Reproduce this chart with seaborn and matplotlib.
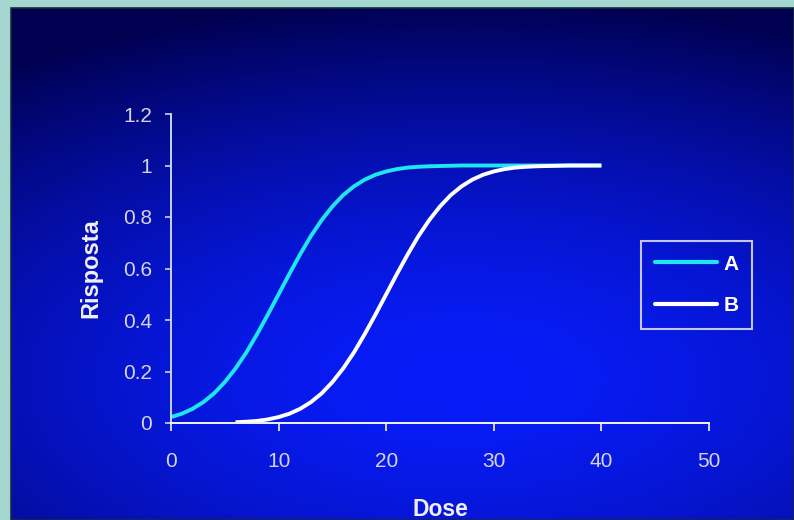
import numpy as np
import pandas as pd
import matplotlib
matplotlib.use("Agg")
import matplotlib.pyplot as plt
import seaborn as sns
from matplotlib.patches import Rectangle

# Dati
dose_a = list(range(0, 41))
risposta_a = [0.023, 0.036, 0.055, 0.081, 0.115, 0.159, 0.212, 0.274, 0.345, 0.421,
              0.500, 0.579, 0.655, 0.726, 0.788, 0.841, 0.885, 0.919, 0.945, 0.964,
              0.977, 0.986, 0.992, 0.995, 0.997, 0.998, 0.999, 1.000, 1.000, 1.000,
              1.000, 1.000, 1.000, 1.000, 1.000, 1.000, 1.000, 1.000, 1.000, 1.000,
              1.000]
dose_b = list(range(6, 41))
risposta_b = [0.003, 0.005, 0.008, 0.014, 0.023, 0.036, 0.055, 0.081, 0.115, 0.159,
              0.212, 0.274, 0.345, 0.421, 0.500, 0.579, 0.655, 0.726, 0.788, 0.841,
              0.885, 0.919, 0.945, 0.964, 0.977, 0.986, 0.992, 0.995, 0.997, 0.998,
              0.999, 1.000, 1.000, 1.000, 1.000]
serie = ["A", "B"]
colori = {"A": "#1ee6f2", "B": "#ffffff"}
x_ticks = [0, 10, 20, 30, 40, 50]
y_ticks = [0, 0.2, 0.4, 0.6, 0.8, 1.0, 1.2]
y_ticklabels = ["0", "0.2", "0.4", "0.6", "0.8", "1", "1.2"]

df = pd.concat([
    pd.DataFrame({"Dose": dose_a, "Risposta": risposta_a, "serie": "A"}),
    pd.DataFrame({"Dose": dose_b, "Risposta": risposta_b, "serie": "B"}),
])

sns.set_style("ticks")
plt.rcParams["font.family"] = ["Liberation Sans", "DejaVu Sans"]

W, H = 794, 520
fig = plt.figure(figsize=(W / 100, H / 100), dpi=100, facecolor="#a3d6cf")

# Sfondo sfumato blu
pl, pt = 11, 8
pw, ph = W - pl, H - pt
bg = fig.add_axes([pl / W, 0, pw / W, ph / H])
yy, xx = np.mgrid[0:ph, 0:pw]
d = np.sqrt(((xx - 450) / 800.0) ** 2 + ((yy - 370) / 380.0) ** 2)
t = np.clip(d, 0, 1) ** 1.6
c0 = np.array([8, 28, 250]) / 255.0
c1 = np.array([0, 0, 80]) / 255.0
grad = c0[None, None, :] * (1 - t[..., None]) + c1[None, None, :] * t[..., None]
bg.imshow(grad, aspect="auto", interpolation="bilinear")
bg.axis("off")
fig.patches.append(Rectangle((pl / W, 0), pw / W, ph / H, transform=fig.transFigure,
                             fill=False, edgecolor="#1a2a3a", linewidth=1.2))

ax = fig.add_axes([171 / W, 1 - 423 / H, 538 / W, 309 / H])
ax.patch.set_alpha(0)

sns.lineplot(data=df, x="Dose", y="Risposta", hue="serie", hue_order=serie,
             palette=colori, linewidth=2.8, ax=ax, legend=False)
for ln in ax.lines:
    ln.set_solid_joinstyle("round")
    ln.set_solid_capstyle("butt")

ax.set_xlim(0, 50)
ax.set_ylim(0, 1.2)
ax.set_xticks(x_ticks)
ax.set_yticks(y_ticks)
ax.set_yticklabels(y_ticklabels)

for s in ["top", "right"]:
    ax.spines[s].set_visible(False)
ax.spines["bottom"].set_color("#f4f4f4")
ax.spines["left"].set_color("#c8d4e8")
ax.spines["bottom"].set_linewidth(1.4)
ax.spines["left"].set_linewidth(1.4)

ax.tick_params(axis="x", direction="out", length=6, width=1.2, color="#f4f4f4",
               labelcolor="#d4d4e4", labelsize=15, pad=15)
ax.tick_params(axis="y", direction="out", length=4.5, width=1.2, color="#c8d4e8",
               labelcolor="#d4d4e4", labelsize=15, pad=9)

ax.set_xlabel("Dose", fontsize=16.5, fontweight="bold", color="#f0f0f8")
ax.set_ylabel("Risposta", fontsize=17, fontweight="bold", color="#f0f0f8")
ax.xaxis.set_label_coords(0.5, -0.243)
ax.yaxis.set_label_coords(-0.128, 0.5)

# Legenda
handles = [plt.Line2D([], [], color=colori[s], linewidth=3.0) for s in serie]
leg = ax.legend(handles, serie, loc="upper left", bbox_to_anchor=(470 / 538, (423 - 241) / 309),
                frameon=True, fancybox=False, handlelength=3.0, handletextpad=0.3,
                labelspacing=1.1, borderpad=0.65, fontsize=15, borderaxespad=0)
leg.get_frame().set_facecolor("none")
leg.get_frame().set_edgecolor("#f4f4f4")
leg.get_frame().set_linewidth(1.5)
for txt in leg.get_texts():
    txt.set_color("#ffffff")
    txt.set_fontweight("bold")

fig.savefig("out.png", dpi=100, facecolor=fig.get_facecolor())
